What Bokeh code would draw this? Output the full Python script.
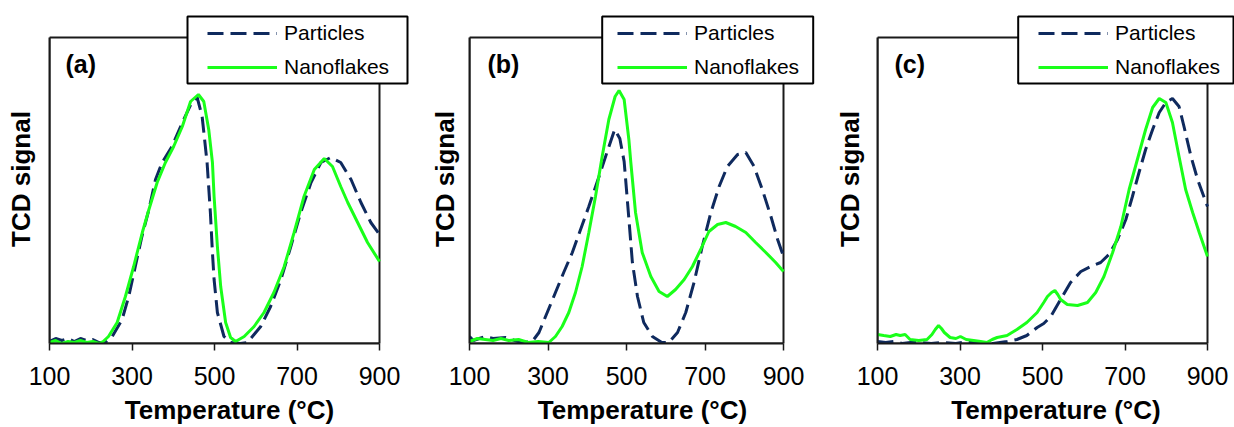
from bokeh.plotting import figure
from bokeh.layouts import row
from bokeh.models import Range1d, Legend, LegendItem, BoxAnnotation, Label
from bokeh.embed import file_html
from bokeh.resources import INLINE

# ---------------- data ----------------
temperature_ticks = [100, 300, 500, 700, 900]
series_names = ["Particles", "Nanoflakes"]
panel_tags = ["(a)", "(b)", "(c)"]

a_particles_T = [100, 115, 130, 145, 160, 175, 190, 205, 220, 235, 252, 276, 292, 308, 324, 341, 357, 373, 397, 422,
                 446, 458, 470, 482, 490, 495, 499, 507, 523, 539, 563, 580, 612, 636, 661, 685, 709, 734, 758, 782,
                 806, 831, 855, 879, 900]
a_particles_y = [2, 5, 3, 5, 2, 5, 3, 4, 1, 1, 7, 24, 47, 77, 107, 134, 164, 181, 197, 221,
                 242, 246, 227, 181, 131, 91, 64, 31, 7, 1, 0, 1, 17, 37, 64, 97, 131, 161, 181, 186,
                 181, 164, 141, 121, 109]
a_nano_T = [100, 115, 130, 145, 160, 175, 190, 205, 220, 230, 243, 264, 284, 304, 325, 341, 361, 381, 401, 422,
            442, 461, 474, 486, 495, 499, 507, 515, 527, 539, 551, 572, 596, 620, 644, 669, 693, 717, 742, 766,
            786, 806, 823, 847, 871, 900]
a_nano_y = [1, 3, 0, 2, 1, 3, 1, 2, 0, 2, 7, 21, 47, 77, 111, 134, 161, 181, 197, 217,
            242, 249, 242, 214, 181, 147, 97, 57, 21, 6, 2, 7, 17, 31, 51, 77, 111, 147, 174, 185,
            177, 157, 141, 121, 101, 82]

b_particles_T = [100, 110, 125, 141, 160, 192, 215, 234, 260, 277, 298, 319, 340, 362, 383, 404, 430, 451, 470, 483,
                 494, 506, 515, 528, 544, 566, 590, 608, 630, 651, 672, 693, 715, 736, 757, 783, 804, 825, 846, 868,
                 885, 900]
b_particles_y = [7, 3, 5, 7, 5, 6, 3, 1, 2, 11, 31, 51, 71, 91, 114, 137, 167, 192, 214, 205,
                 182, 125, 81, 47, 21, 7, 1, 1, 11, 31, 61, 97, 131, 157, 177, 189, 191, 177, 154, 127,
                 104, 87]
b_nano_T = [100, 120, 140, 160, 180, 200, 225, 250, 275, 302, 319, 336, 353, 370, 387, 404, 421, 438, 455, 471,
            481, 494, 506, 511, 523, 540, 562, 583, 604, 625, 647, 668, 689, 710, 732, 753, 778, 804, 829, 855,
            880, 900]
b_nano_y = [2, 5, 4, 3, 5, 3, 4, 1, 2, 1, 7, 17, 31, 51, 77, 111, 147, 187, 224, 247,
            253, 244, 204, 181, 131, 91, 67, 52, 47, 54, 64, 77, 94, 112, 119, 121, 117, 111, 101, 91,
            81, 72]

c_particles_T = [100, 120, 140, 160, 180, 200, 230, 260, 290, 320, 350, 380, 414, 438, 462, 487, 503, 520, 544, 568,
                 593, 617, 641, 661, 682, 702, 718, 734, 750, 767, 783, 799, 815, 831, 843, 860, 876, 900]
c_particles_y = [2, 1, 2, 0, 1, 1, 0, 1, 0, 2, 1, 0, 2, 4, 8, 16, 20, 27, 44, 61,
                 72, 77, 81, 89, 104, 124, 147, 171, 194, 214, 231, 241, 245, 237, 217, 187, 164, 137]
c_nano_T = [100, 115, 131, 145, 155, 167, 179, 200, 220, 232, 240, 248, 255, 262, 276, 290, 301, 315, 333, 350,
            365, 378, 390, 414, 438, 462, 487, 503, 512, 522, 530, 537, 544, 560, 585, 609, 629, 649, 670, 690,
            710, 730, 750, 767, 783, 799, 815, 831, 847, 864, 880, 900]
c_nano_y = [9, 8, 7, 9, 8, 9, 4, 3, 4, 9, 14, 18, 15, 11, 6, 5, 7, 4, 3, 2,
            1, 4, 6, 8, 14, 21, 31, 41, 47, 51, 53, 49, 44, 39, 38, 41, 51, 67, 91, 117,
            154, 184, 214, 236, 245, 241, 221, 187, 154, 131, 111, 87]

# ---------------- styling / layout (pixel positions on the page) ----------------
NAVY = "#0f2a5e"
GREEN = "#1aff1a"
FONT = "Liberation Sans"
FIG_H = 427
FRAME_TOP = 14          # frame extended upward so the legend box is not clipped
PLOT_TOP = 37           # visible box top
PLOT_BOTTOM = 343       # visible box bottom / x axis
PLOT_H = PLOT_BOTTOM - PLOT_TOP
Y_MAX = PLOT_H          # signal units: 1 unit per pixel of the visible box


def make_panel(tag, pT, py, nT, ny, fig_left, fig_w, plot_left, plot_right, ylab_standoff,
               box_left, box_right, glyph_left, tag_dx):
    frame_right = int(round(min(max(plot_right, box_right + 2), fig_left + fig_w)))
    frame_w = frame_right - plot_left
    border_left = plot_left - fig_left
    border_right = fig_w - border_left - frame_w
    xscale = (plot_right - plot_left) / 800.0

    def px2x(px):
        return 100 + (px - plot_left) / xscale

    def py2y(pyy):
        return (PLOT_BOTTOM - pyy) * Y_MAX / PLOT_H

    p = figure(width=fig_w, height=FIG_H,
               x_range=Range1d(100, px2x(frame_right)), y_range=Range1d(0, py2y(FRAME_TOP)),
               output_backend="svg", toolbar_location=None,
               min_border_left=border_left, min_border_right=border_right,
               min_border_top=FRAME_TOP, min_border_bottom=FIG_H - PLOT_BOTTOM)
    p.xgrid.visible = False
    p.ygrid.visible = False
    p.outline_line_color = None
    p.background_fill_color = "white"
    p.border_fill_color = "white"

    xa = p.xaxis[0]
    xa.ticker = temperature_ticks
    xa.bounds = (100, 900)
    xa.axis_label = "Temperature (°C)"
    xa.axis_label_text_font = FONT
    xa.axis_label_text_font_style = "bold"
    xa.axis_label_text_font_size = "26px"
    xa.axis_label_text_color = "black"
    xa.axis_label_standoff = 7
    xa.major_label_text_font = FONT
    xa.major_label_text_font_size = "25px"
    xa.major_label_text_color = "black"
    xa.major_label_standoff = 16
    xa.major_tick_out = 7
    xa.major_tick_in = 0
    xa.minor_tick_out = 0
    xa.minor_tick_in = 0
    xa.major_tick_line_color = "#1a1a1a"
    xa.major_tick_line_width = 1.5
    xa.axis_line_color = "#1a1a1a"
    xa.axis_line_width = 2

    ya = p.yaxis[0]
    ya.ticker = []
    ya.bounds = (0, Y_MAX)
    ya.axis_label = "TCD signal"
    ya.axis_label_text_font = FONT
    ya.axis_label_text_font_style = "bold"
    ya.axis_label_text_font_size = "26px"
    ya.axis_label_text_color = "black"
    ya.axis_label_standoff = ylab_standoff
    ya.major_tick_line_color = None
    ya.minor_tick_line_color = None
    ya.axis_line_color = "#1a1a1a"
    ya.axis_line_width = 2

    # visible plot box (top and right edges)
    p.add_layout(BoxAnnotation(left=100, right=900, bottom=0, top=Y_MAX,
                               fill_alpha=0, line_color="#1a1a1a", line_alpha=1.0, line_width=2,
                               level="underlay"))

    r1 = p.line(pT, py, line_color=NAVY, line_width=3, line_dash="16 7")
    r2 = p.line(nT, ny, line_color=GREEN, line_width=3)

    p.add_layout(Label(x=px2x(plot_left + tag_dx), y=py2y(49), text=tag,
                       text_font=FONT, text_font_style="bold", text_font_size="25px",
                       text_color="black", text_baseline="top", text_align="left"))

    p.add_layout(BoxAnnotation(left=px2x(box_left), right=px2x(box_right), top=py2y(16), bottom=py2y(83),
                               fill_color="white", fill_alpha=1.0, line_color="black", line_alpha=1.0,
                               line_width=2, level="annotation"))

    legend = Legend(items=[LegendItem(label=series_names[0], renderers=[r1]),
                           LegendItem(label=series_names[1], renderers=[r2])],
                    location=(int(round(glyph_left - plot_left)), PLOT_BOTTOM - 82),
                    padding=0, margin=0, spacing=4, glyph_width=70, glyph_height=30,
                    label_height=30, label_standoff=7,
                    label_text_font=FONT, label_text_font_size="21px", label_text_color="black",
                    border_line_alpha=0, background_fill_alpha=0, level="overlay")
    p.add_layout(legend)
    return p


pa = make_panel(panel_tags[0], a_particles_T, a_particles_y, a_nano_T, a_nano_y,
                0, 420, 49, 379, 14, 187, 407, 206.7, 16)
pb = make_panel(panel_tags[1], b_particles_T, b_particles_y, b_nano_T, b_nano_y,
                420, 408, 469, 783, 10, 601.7, 812.7, 616.7, 18)
pc = make_panel(panel_tags[2], c_particles_T, c_particles_y, c_nano_T, c_nano_y,
                828, 406, 877, 1207, 13, 1017.7, 1233, 1038.3, 17)

layout = row(pa, pb, pc)
open("out.html", "w").write(file_html(layout, INLINE))
